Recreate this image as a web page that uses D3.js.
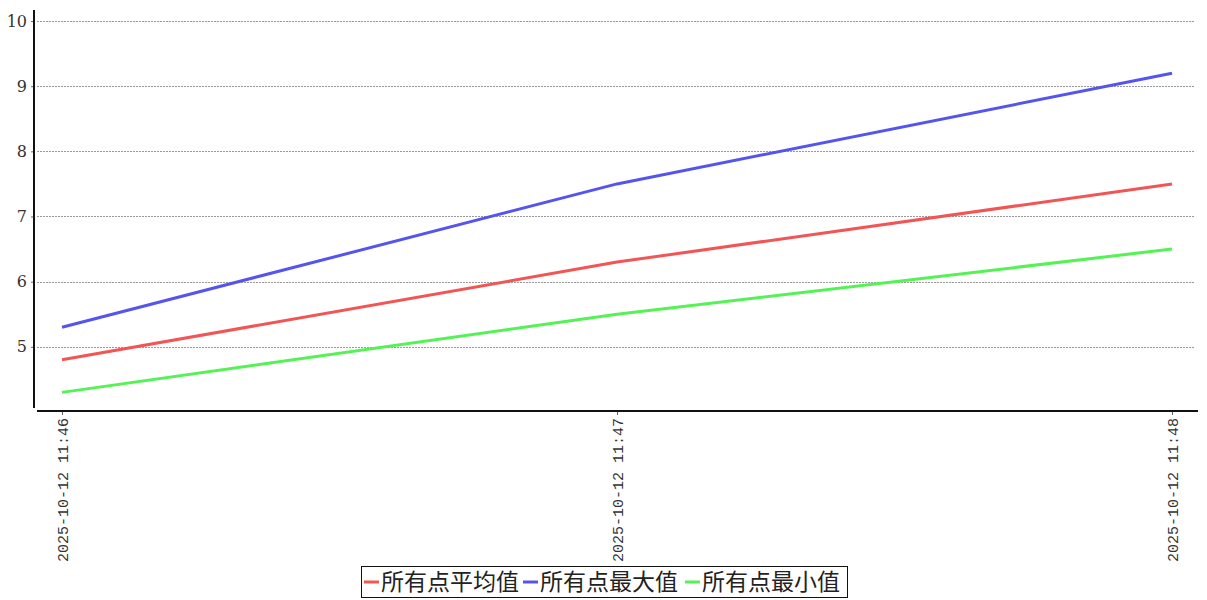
<!DOCTYPE html>
<html><head><meta charset="utf-8">
<script src="https://cdn.jsdelivr.net/npm/d3@7"></script>
<style>body{margin:0;background:#fff}</style>
</head><body>
<svg id="c" width="1207" height="600"></svg>
<script>
const categories = ["2025-10-12 11:46", "2025-10-12 11:47", "2025-10-12 11:48"];
const avgValues = [4.8, 6.3, 7.5];
const maxValues = [5.3, 7.5, 9.2];
const minValues = [4.3, 5.5, 6.5];
const yTicks = [5, 6, 7, 8, 9, 10];
const seriesNames = ["所有点平均值", "所有点最大值", "所有点最小值"];
const seriesColors = ["#f25555", "#5555ee", "#55f255"];

const svg = d3.select("#c");
const x = d3.scalePoint().domain(categories).range([62, 1172]);
const y = d3.scaleLinear().domain([4.06, 10.17]).range([408, 10]);

// grid
svg.append("g").selectAll("line").data(yTicks).join("line")
  .attr("x1", 37).attr("x2", 1195)
  .attr("y1", d => Math.round(y(d)) + 0.5).attr("y2", d => Math.round(y(d)) + 0.5)
  .attr("stroke", "#999").attr("stroke-dasharray", "2,1").attr("stroke-width", 1);

// y axis
const ya = svg.append("g").attr("transform", "translate(34,0)")
  .call(d3.axisLeft(y).tickValues(yTicks).tickSize(3).tickPadding(4).tickFormat(d3.format("d")));
ya.select(".domain").remove();
ya.selectAll("text").attr("font-family", "DejaVu Serif, serif").attr("font-size", 16).attr("fill", "#333");
ya.selectAll(".tick line").attr("stroke", "#666");
svg.append("line").attr("x1", 34).attr("x2", 34).attr("y1", 10).attr("y2", 408)
  .attr("stroke", "#111").attr("stroke-width", 2);

// x axis
const xa = svg.append("g").attr("transform", "translate(0,411)")
  .call(d3.axisBottom(x).tickSize(4).tickPadding(4));
xa.select(".domain").remove();
xa.selectAll(".tick line").attr("stroke", "#666");
xa.selectAll("text")
  .attr("font-family", "Liberation Mono, monospace").attr("font-size", 15).attr("fill", "#333")
  .attr("transform", "rotate(-90)").attr("text-anchor", "end")
  .attr("x", -7).attr("y", 0).attr("dy", "0.35em");
svg.append("line").attr("x1", 37).attr("x2", 1198).attr("y1", 411).attr("y2", 411)
  .attr("stroke", "#111").attr("stroke-width", 2);

// lines
const allSeries = [avgValues, maxValues, minValues];
const line = d3.line().x((d, i) => x(categories[i])).y(d => y(d));
svg.append("g").selectAll("path").data(allSeries).join("path")
  .attr("d", d => line(d)).attr("fill", "none")
  .attr("stroke", (d, i) => seriesColors[i]).attr("stroke-width", 3);

// legend
const lg = svg.append("g");
lg.append("rect").attr("x", 361.5).attr("y", 566.5).attr("width", 486).attr("height", 31)
  .attr("fill", "#fff").attr("stroke", "#111").attr("stroke-width", 1);
const legX = [364, 523, 685];
seriesNames.forEach((n, i) => {
  lg.append("line").attr("x1", legX[i]).attr("x2", legX[i] + 15).attr("y1", 582).attr("y2", 582)
    .attr("stroke", seriesColors[i]).attr("stroke-width", 3);
  lg.append("text").attr("x", legX[i] + 17).attr("y", 590).text(n)
    .attr("font-family", "Noto Sans CJK SC").attr("font-size", 23).attr("fill", "#222");
});
</script>
</body></html>
